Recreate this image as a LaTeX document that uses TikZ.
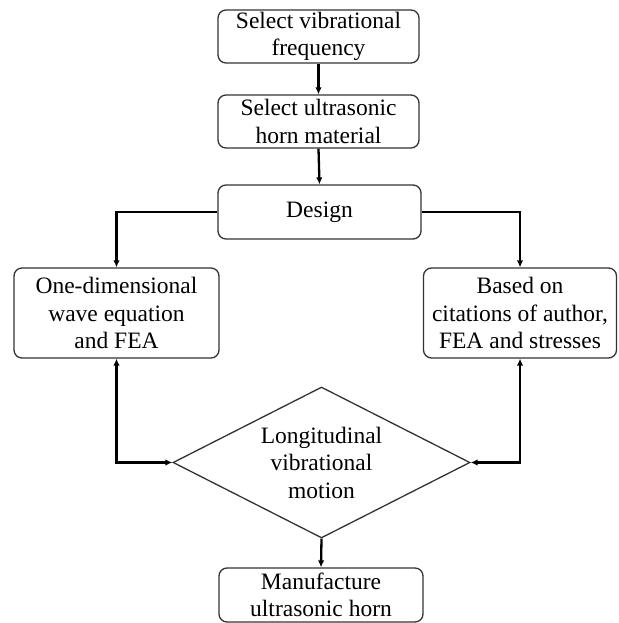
\documentclass[tikz,border=0pt]{standalone}
\usepackage{fontspec}
\setmainfont{Liberation Serif}
\usetikzlibrary{shapes.geometric,arrows.meta}
\begin{document}
\begin{tikzpicture}[x=1pt,y=1pt,
  box/.style={draw=black!80, line width=1.3pt, rounded corners=8pt, align=center, inner sep=0pt,
    font=\fontsize{23.5}{27.5}\selectfont},
  flow/.style={line width=2.3pt, -{Latex[length=7pt,width=6.5pt]}},
  flowboth/.style={line width=2.3pt, {Latex[length=7pt,width=6.5pt]}-{Latex[length=7pt,width=6.5pt]}}]
\useasboundingbox (0,0) rectangle (618,623);
\node[box, minimum width=201pt, minimum height=53pt] (b1) at (318.5,586.5) {Select vibrational\\frequency};
\node[box, minimum width=201pt, minimum height=53pt] (b2) at (318.5,501.5) {Select ultrasonic\\horn material};
\node[box, minimum width=203pt, minimum height=54pt] (des) at (319.5,411) {Design};
\node[box, minimum width=205pt, minimum height=90pt] (left) at (116.5,310) {One-dimensional\\wave equation\\and FEA};
\node[box, minimum width=193pt, minimum height=90pt] (right) at (520,310) {Based on\\citations of author,\\FEA and stresses};
\node[draw=black!80, line width=1.3pt, diamond, aspect=1.97, inner sep=0pt, minimum width=297pt, minimum height=151pt,
  align=center, font=\fontsize{23.5}{27.5}\selectfont] (dia) at (321.5,160.5) {Longitudinal\\vibrational\\motion};
\node[box, minimum width=204pt, minimum height=54pt] (bot) at (321,28) {Manufacture\\ultrasonic horn};
\draw[flow] (b1.south) -- (b2.north);
\draw[flow] (b2.south) -- (des.north);
\draw[flow] (des.west) -| (left.north);
\draw[flow] (des.east) -| (right.north);
\draw[flowboth] (left.south) |- (dia.west);
\draw[flowboth] (right.south) |- (dia.east);
\draw[flow] (dia.south) -- (bot.north);
\end{tikzpicture}
\end{document}
